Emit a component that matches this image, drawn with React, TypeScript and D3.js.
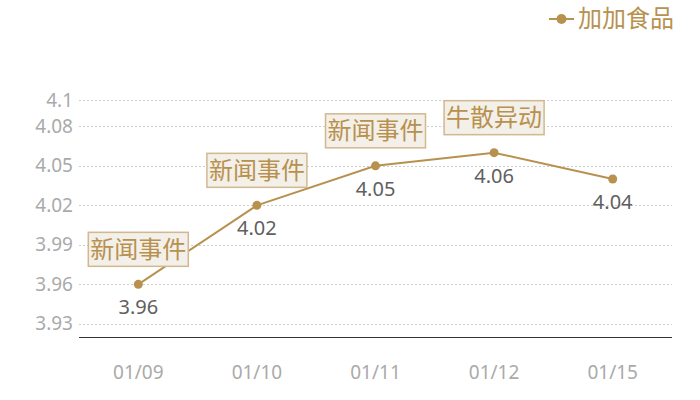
import { useEffect, useRef } from "react"
import * as d3 from "d3"

const dates = ["01/09", "01/10", "01/11", "01/12", "01/15"]
const prices = [3.96, 4.02, 4.05, 4.06, 4.04]
// annotation text above a point, null where there is none
const events: (string | null)[] = ["新闻事件", "新闻事件", "新闻事件", "牛散异动", null]
const yTicks = [3.93, 3.96, 3.99, 4.02, 4.05, 4.08, 4.1]
const seriesName = "加加食品"

const GOLD = "#b8914f"
const FONT = "'Noto Sans', 'Noto Sans CJK SC', sans-serif"

export default function App() {
  const svgRef = useRef<SVGSVGElement>(null)

  useEffect(() => {
    if (!svgRef.current) return
    const root = d3.select(svgRef.current)
    root.selectAll("*").remove()

    const margin = { top: 100, right: 28, bottom: 63, left: 79 }
    const width = 700 - margin.left - margin.right
    const height = 400 - margin.top - margin.bottom

    const svg = root.append("g").attr("transform", `translate(${margin.left},${margin.top})`)

    const x = d3.scaleBand().domain(dates).range([0, width])
    const y = d3.scaleLinear().domain([3.92, 4.1]).range([height, 0])
    const cx = (d: string) => (x(d) || 0) + x.bandwidth() / 2

    // dotted grid
    svg
      .append("g")
      .selectAll("line")
      .data(yTicks)
      .enter()
      .append("line")
      .attr("x1", 0)
      .attr("x2", width)
      .attr("y1", (d) => Math.round(y(d)) + 0.5)
      .attr("y2", (d) => Math.round(y(d)) + 0.5)
      .attr("stroke", "#ccc")
      .attr("stroke-dasharray", "2,2")

    // y labels
    svg
      .append("g")
      .selectAll("text")
      .data(yTicks)
      .enter()
      .append("text")
      .attr("x", -6)
      .attr("y", (d) => y(d))
      .attr("dy", "0.35em")
      .attr("text-anchor", "end")
      .attr("fill", "#aaa")
      .attr("font-size", 19)
      .attr("font-family", FONT)
      .text((d) => String(d))

    // x axis line
    svg
      .append("line")
      .attr("x1", 0)
      .attr("x2", width)
      .attr("y1", height + 0.5)
      .attr("y2", height + 0.5)
      .attr("stroke", "#333")

    svg
      .append("g")
      .selectAll("text")
      .data(dates)
      .enter()
      .append("text")
      .attr("x", cx)
      .attr("y", height + 35)
      .attr("dy", "0.35em")
      .attr("text-anchor", "middle")
      .attr("fill", "#aaa")
      .attr("font-size", 19)
      .attr("font-family", FONT)
      .text((d) => d)

    const data = dates.map((d, i) => ({ date: d, value: prices[i], event: events[i] }))

    const line = d3
      .line<{ date: string; value: number }>()
      .x((d) => cx(d.date))
      .y((d) => y(d.value))

    svg
      .append("path")
      .datum(data)
      .attr("fill", "none")
      .attr("stroke", GOLD)
      .attr("stroke-width", 2)
      .attr("d", line)

    svg
      .selectAll(".dot")
      .data(data)
      .enter()
      .append("circle")
      .attr("cx", (d) => cx(d.date))
      .attr("cy", (d) => y(d.value))
      .attr("r", 4.5)
      .attr("fill", GOLD)

    // value labels under points
    svg
      .selectAll(".val")
      .data(data)
      .enter()
      .append("text")
      .attr("x", (d) => cx(d.date))
      .attr("y", (d) => y(d.value) + 23)
      .attr("dy", "0.35em")
      .attr("text-anchor", "middle")
      .attr("fill", "#606060")
      .attr("font-size", 20)
      .attr("font-family", FONT)
      .text((d) => d.value.toFixed(2))

    // event boxes
    const boxes = svg
      .selectAll(".evt")
      .data(data.filter((d) => d.event))
      .enter()
      .append("g")
      .attr("transform", (d) => `translate(${cx(d.date)},${y(d.value) - 18})`)

    boxes
      .append("rect")
      .attr("x", -50)
      .attr("y", -34)
      .attr("width", 100)
      .attr("height", 34)
      .attr("fill", "#f3efe9")
      .attr("stroke", "#d2b88f")
      .attr("stroke-width", 1.5)

    boxes
      .append("text")
      .attr("x", 0)
      .attr("y", -17)
      .attr("dy", "0.35em")
      .attr("text-anchor", "middle")
      .attr("fill", GOLD)
      .attr("font-size", 24)
      .attr("font-family", FONT)
      .text((d) => d.event as string)

    // legend
    const legend = root.append("g").attr("transform", "translate(549,19)")
    legend.append("line").attr("x1", 0).attr("x2", 25).attr("stroke", GOLD).attr("stroke-width", 2)
    legend.append("circle").attr("cx", 12.5).attr("r", 5).attr("fill", GOLD)
    legend
      .append("text")
      .attr("x", 29)
      .attr("dy", "0.35em")
      .attr("fill", GOLD)
      .attr("font-size", 24)
      .attr("font-family", FONT)
      .text(seriesName)
  }, [])

  return (
    <svg
      ref={svgRef}
      width={700}
      height={400}
      style={{ position: "absolute", left: 0, top: 0, background: "#fff" }}
    />
  )
}
